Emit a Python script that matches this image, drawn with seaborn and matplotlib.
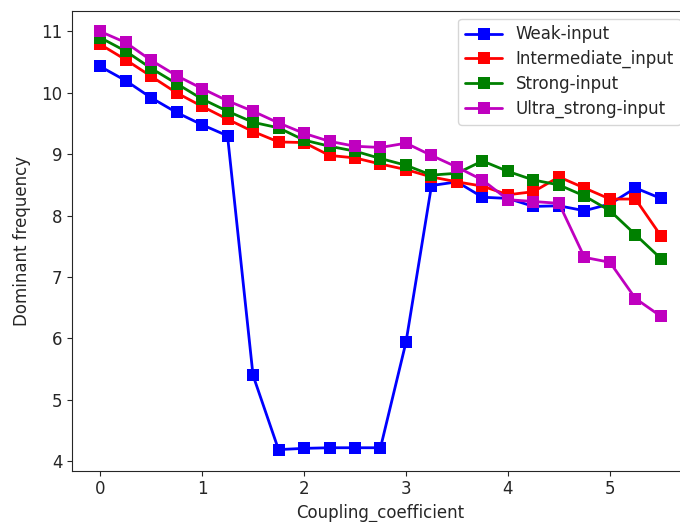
import numpy as np
import pandas as pd
import seaborn as sns
import matplotlib
matplotlib.use("Agg")
import matplotlib.pyplot as plt

coupling = [0, 0.25, 0.5, 0.75, 1, 1.25, 1.5, 1.75, 2, 2.25, 2.5, 2.75, 3,
            3.25, 3.5, 3.75, 4, 4.25, 4.5, 4.75, 5, 5.25, 5.5]
weak = [10.43, 10.2, 9.92, 9.68, 9.48, 9.3, 5.4, 4.19, 4.21, 4.22, 4.22, 4.22, 5.94,
        8.49, 8.55, 8.3, 8.28, 8.15, 8.16, 8.08, 8.19, 8.45, 8.28]
intermediate = [10.79, 10.54, 10.27, 10.0, 9.78, 9.57, 9.37, 9.2, 9.19, 8.98, 8.94, 8.84, 8.75,
                8.63, 8.55, 8.48, 8.34, 8.39, 8.63, 8.45, 8.27, 8.27, 7.67]
strong = [10.9, 10.68, 10.4, 10.15, 9.9, 9.7, 9.52, 9.43, 9.23, 9.13, 9.05, 8.93, 8.82,
          8.66, 8.69, 8.89, 8.72, 8.58, 8.5, 8.32, 8.08, 7.69, 7.3]
ultra = [11.0, 10.82, 10.53, 10.28, 10.07, 9.87, 9.7, 9.51, 9.34, 9.21, 9.13, 9.11, 9.18,
         8.98, 8.79, 8.58, 8.26, 8.23, 8.2, 7.32, 7.24, 6.65, 6.36]

labels = ["Weak-input", "Intermediate_input", "Strong-input", "Ultra_strong-input"]
colors = ["#0000ff", "#ff0000", "#008000", "#bf00bf"]

frames = []
for lab, vals in zip(labels, [weak, intermediate, strong, ultra]):
    frames.append(pd.DataFrame({"x": coupling, "y": vals, "series": lab}))
df = pd.concat(frames, ignore_index=True)

sns.set_style("ticks")
plt.rcParams['font.family'] = ['DejaVu Sans']
fig = plt.figure(figsize=(6.8, 5.22), dpi=100)
ax = fig.add_axes([72 / 680, 1 - 470.5 / 522, 617 / 680, 460 / 522])
sns.lineplot(data=df, x="x", y="y", hue="series", hue_order=labels,
             palette=colors, marker="s", markersize=8, markeredgewidth=0,
             linewidth=2, ax=ax, sort=False)
ax.set_xlabel("Coupling_coefficient", fontsize=12)
ax.set_ylabel("Dominant frequency", fontsize=12, labelpad=7)
ax.tick_params(labelsize=12)
ax.set_xticks([0, 1, 2, 3, 4, 5])
ax.set_yticks([4, 5, 6, 7, 8, 9, 10, 11])
leg = ax.legend(loc="upper right", fontsize=12, handlelength=2.25,
                labelspacing=0.4)
leg.set_title(None)
fig.savefig("out.png", dpi=100)
